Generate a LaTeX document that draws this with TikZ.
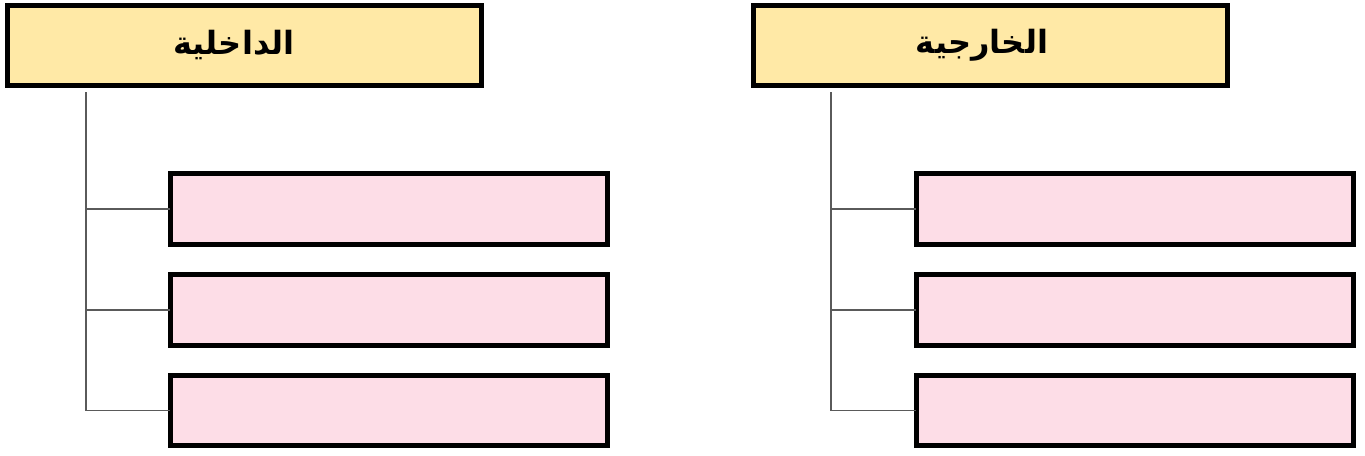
\documentclass[tikz,border=0pt]{standalone}
\usepackage{fontspec}
\TeXXeTstate=1
\newfontfamily\arabicfont[Script=Arabic]{DejaVu Sans}
\begin{document}
\begin{tikzpicture}[x=0.75pt,y=-0.75pt,
  head/.style={draw=black,line width=3.8pt,fill=headfill,minimum width=355pt,minimum height=60.5pt,inner sep=0pt,outer sep=0pt},
  headtext/.style={font=\arabicfont\bfseries\fontsize{24}{26}\selectfont,inner sep=0pt},
  slot/.style={draw=black,line width=3.8pt,fill=slotfill,minimum width=328pt,minimum height=53pt,inner sep=0pt,outer sep=0pt},
  link/.style={draw=linkgray,line width=1.4pt}]
\definecolor{headfill}{HTML}{FFE9A6}
\definecolor{slotfill}{HTML}{FDDDE7}
\definecolor{linkgray}{HTML}{5A5A5A}
\useasboundingbox (0,0) rectangle (1365,455);
% left group
\node[head] (hL) at (244.5,45.5) {};
\node[headtext] (tL) at (234,45) {\beginR الداخلية\endR};
\node[slot] (L1) at (389,209) {};
\node[slot] (L2) at (389,310) {};
\node[slot] (L3) at (389,410.5) {};
\coordinate (L0) at (86,92);
\draw[link] (L0) |- (L3.west);
\draw[link] (L0 |- L1.west) -- (L1.west);
\draw[link] (L0 |- L2.west) -- (L2.west);
% right group
\node[head] (hR) at (990.5,45.5) {};
\node[headtext] (tR) at (982,45) {\beginR الخارجية\endR};
\node[slot] (R1) at (1135,209) {};
\node[slot] (R2) at (1135,310) {};
\node[slot] (R3) at (1135,410.5) {};
\coordinate (R0) at (831,92);
\draw[link] (R0) |- (R3.west);
\draw[link] (R0 |- R1.west) -- (R1.west);
\draw[link] (R0 |- R2.west) -- (R2.west);
\end{tikzpicture}
\end{document}
